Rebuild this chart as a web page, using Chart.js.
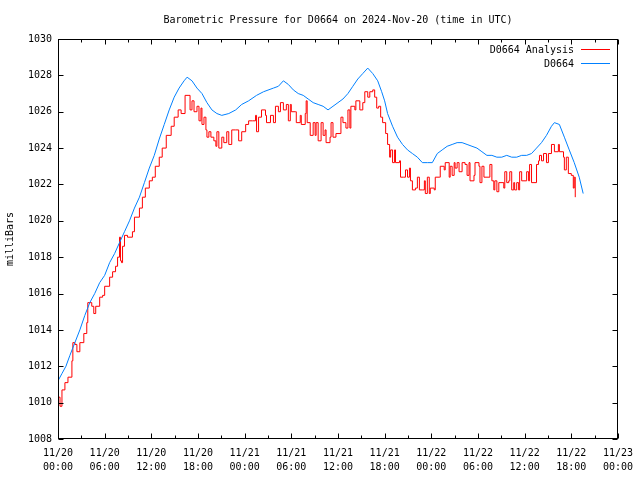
<!DOCTYPE html>
<html>
<head>
<meta charset="utf-8">
<title>Barometric Pressure D0664</title>
<script src="https://cdn.jsdelivr.net/npm/chart.js@4/dist/chart.umd.min.js"></script>
<style>
    html, body { margin: 0; padding: 0; background: #fff; }
    canvas { display: block; }
</style>
</head>
<body>
<canvas id="pressure-chart" width="640" height="480"></canvas>
<script>
// ─── Data (hours since 2024-11-20 00:00 UTC, millibars) ──────────────────────

const stationHours = [
    0.00, 0.51, 1.02, 1.53, 2.17, 2.81, 3.45, 4.09, 4.72, 5.36, 6.00, 6.64, 7.28, 7.91,
    8.55, 9.19, 9.83, 10.47, 11.11, 11.74, 12.38, 13.02, 13.66, 14.30, 14.94, 15.57,
    16.21, 16.60, 17.23, 17.87, 18.51, 19.15, 19.79, 20.43, 21.06, 21.96, 22.85, 23.62,
    24.51, 25.53, 26.43, 27.70, 28.34, 28.98, 29.62, 30.26, 30.89, 31.53, 32.17, 32.81,
    33.45, 34.09, 34.72, 35.36, 36.00, 36.64, 37.28, 37.91, 38.55, 39.19, 39.83, 40.47,
    41.11, 41.62, 42.00, 42.38, 43.02, 43.66, 44.30, 44.94, 45.57, 46.21, 46.85, 47.49,
    48.13, 48.77, 49.40, 50.04, 50.68, 51.32, 51.96, 52.60, 53.23, 53.87, 54.51, 55.15,
    55.79, 56.43, 57.06, 57.70, 58.34, 58.98, 59.62, 60.26, 60.89, 61.53, 62.17, 62.81,
    63.45, 63.83, 64.47, 65.11, 65.74, 66.38, 67.02, 67.53,
];
const stationPressure = [
    1011.2, 1011.6, 1012.0, 1012.6, 1013.3, 1014.0, 1014.8, 1015.5, 1016.0, 1016.6, 1017.0, 1017.7, 1018.2, 1018.8,
    1019.4, 1020.0, 1020.7, 1021.3, 1022.1, 1022.9, 1023.6, 1024.5, 1025.3, 1026.1, 1026.8, 1027.3,
    1027.7, 1027.9, 1027.7, 1027.3, 1027.0, 1026.5, 1026.1, 1025.9, 1025.8, 1025.9, 1026.1, 1026.4,
    1026.6, 1026.9, 1027.1, 1027.3, 1027.4, 1027.7, 1027.5, 1027.2, 1027.0, 1026.9, 1026.7, 1026.5,
    1026.4, 1026.3, 1026.1, 1026.3, 1026.5, 1026.7, 1027.0, 1027.4, 1027.8, 1028.1, 1028.4, 1028.1,
    1027.7, 1027.1, 1026.6, 1025.9, 1025.2, 1024.6, 1024.2, 1023.9, 1023.7, 1023.5, 1023.2, 1023.2,
    1023.2, 1023.7, 1023.9, 1024.1, 1024.2, 1024.3, 1024.3, 1024.2, 1024.1, 1024.0, 1023.8, 1023.6,
    1023.6, 1023.5, 1023.5, 1023.6, 1023.5, 1023.5, 1023.6, 1023.6, 1023.7, 1024.0, 1024.3, 1024.7,
    1025.2, 1025.4, 1025.3, 1024.6, 1023.9, 1023.2, 1022.4, 1021.5,
];

const analysisHours = [
    0.00, 0.26, 0.51, 0.89, 1.28, 1.79, 1.91, 2.17, 2.43, 2.81, 3.32, 3.70, 3.83, 4.34,
    4.60, 4.85, 5.36, 5.74, 6.00, 6.64, 7.02, 7.40, 7.66, 7.91, 8.04, 8.17, 8.30, 8.55,
    8.94, 9.57, 9.83, 10.47, 10.85, 11.23, 11.74, 12.13, 12.51, 13.02, 13.40, 13.92,
    14.55, 14.94, 15.45, 15.83, 16.34, 16.72, 16.98, 17.23, 17.49, 17.87, 18.13, 18.38,
    18.51, 18.77, 19.02, 19.15, 19.40, 19.66, 20.04, 20.30, 20.43, 20.68, 21.06, 21.32,
    21.70, 21.96, 22.34, 22.85, 23.23, 23.62, 24.13, 24.51, 25.02, 25.40, 25.53, 25.79,
    26.17, 26.68, 26.81, 27.32, 27.70, 27.96, 28.34, 28.60, 28.98, 29.36, 29.62, 29.87,
    30.00, 30.51, 30.64, 31.15, 31.28, 31.79, 31.91, 32.04, 32.43, 32.81, 33.06, 33.19,
    33.45, 33.83, 34.09, 34.34, 34.47, 34.98, 35.11, 35.36, 35.74, 36.26, 36.38, 36.64,
    37.02, 37.28, 37.53, 37.66, 38.17, 38.30, 38.81, 39.19, 39.45, 39.83, 40.09, 40.47,
    40.72, 40.98, 41.23, 41.49, 41.74, 42.13, 42.38, 42.64, 42.77, 43.02, 43.28, 43.40,
    43.91, 44.04, 44.43, 44.68, 44.94, 45.19, 45.32, 45.57, 45.96, 46.21, 46.47, 46.85,
    47.11, 47.23, 47.49, 47.74, 47.87, 48.38, 48.51, 49.02, 49.15, 49.66, 49.79, 50.30,
    50.43, 50.68, 50.94, 51.06, 51.32, 51.57, 51.96, 52.34, 52.60, 52.85, 52.98, 53.49,
    53.62, 54.13, 54.26, 54.51, 54.77, 55.53, 55.79, 56.04, 56.17, 56.43, 56.68, 57.32,
    57.45, 57.70, 57.96, 58.09, 58.34, 58.60, 58.72, 58.98, 59.23, 59.36, 59.62, 60.26,
    60.51, 60.64, 60.89, 61.53, 61.79, 61.91, 62.17, 62.43, 62.81, 63.06, 63.45, 63.83,
    64.34, 64.47, 65.00, 65.11, 65.36, 65.62, 66.00, 66.26, 66.38, 66.51,
];
const analysisPressure = [
    1010.3, 1009.8, 1010.7, 1011.1, 1011.4, 1012.3, 1013.3, 1013.2, 1012.8, 1013.3, 1013.8, 1014.4, 1015.5, 1015.3,
    1014.9, 1015.3, 1015.8, 1015.9, 1016.4, 1016.9, 1017.2, 1017.5, 1018.0, 1019.1, 1017.8, 1017.7, 1018.6, 1019.2,
    1019.1, 1019.4, 1020.2, 1020.7, 1021.3, 1021.8, 1022.2, 1022.4, 1023.0, 1023.5, 1024.0, 1024.7,
    1025.2, 1025.7, 1026.1, 1025.9, 1026.9, 1026.9, 1026.1, 1026.6, 1026.0, 1026.3, 1025.5, 1026.2,
    1025.3, 1025.7, 1025.0, 1024.6, 1024.9, 1024.6, 1024.4, 1024.1, 1024.9, 1024.0, 1024.6, 1024.3,
    1024.9, 1024.2, 1025.0, 1025.0, 1024.4, 1024.9, 1025.3, 1025.5, 1025.5, 1025.8, 1024.9, 1025.7,
    1026.1, 1025.8, 1025.4, 1025.8, 1025.4, 1026.3, 1026.0, 1026.5, 1026.1, 1026.4, 1025.5, 1026.4,
    1026.0, 1026.0, 1025.4, 1025.8, 1025.3, 1025.9, 1026.6, 1025.4, 1024.7, 1025.4, 1024.7, 1025.4,
    1024.4, 1025.4, 1024.7, 1025.0, 1024.3, 1024.6, 1025.4, 1024.6, 1024.8, 1024.8, 1025.7, 1025.4,
    1025.1, 1026.1, 1025.1, 1026.3, 1026.1, 1026.6, 1026.1, 1026.5, 1027.1, 1026.8, 1027.1, 1027.2,
    1026.8, 1026.2, 1026.3, 1025.7, 1025.4, 1024.8, 1024.2, 1023.5, 1023.9, 1023.2, 1023.9, 1023.2,
    1023.3, 1022.4, 1022.4, 1022.8, 1022.4, 1022.9, 1022.2, 1021.7, 1021.8, 1022.4, 1021.7, 1021.7,
    1022.2, 1021.5, 1022.4, 1021.5, 1021.8, 1021.7, 1022.4, 1022.4, 1023.0, 1022.8, 1023.2, 1022.4,
    1023.0, 1022.5, 1023.2, 1022.9, 1023.2, 1022.7, 1023.2, 1023.1, 1022.5, 1023.2, 1022.2, 1022.5,
    1023.2, 1023.0, 1022.1, 1023.0, 1022.4, 1023.1, 1022.2, 1021.7, 1022.2, 1021.6, 1022.1, 1021.8,
    1022.7, 1022.1, 1022.2, 1022.7, 1021.7, 1022.1, 1021.7, 1022.1, 1021.7, 1022.7, 1022.2, 1022.7,
    1022.2, 1023.1, 1022.1, 1023.1, 1023.3, 1023.6, 1023.3, 1023.7, 1023.2, 1023.7, 1024.2, 1023.8,
    1024.2, 1023.8, 1023.5, 1022.8, 1023.5, 1022.6, 1022.5, 1021.8, 1022.4, 1021.3,
];

const xTickLabels = [
    ['11/20', '00:00'], ['11/20', '06:00'], ['11/20', '12:00'], ['11/20', '18:00'],
    ['11/21', '00:00'], ['11/21', '06:00'], ['11/21', '12:00'], ['11/21', '18:00'],
    ['11/22', '00:00'], ['11/22', '06:00'], ['11/22', '12:00'], ['11/22', '18:00'],
    ['11/23', '00:00'],
];
const seriesLabels = ['D0664 Analysis', 'D0664'];
const chartTitle   = 'Barometric Pressure for D0664 on 2024-Nov-20 (time in UTC)';
const yAxisTitle   = 'milliBars';

// ─── Helpers ────────────────────────────────────────────────────────────────

const FONT = 'DejaVu Sans Mono';
const toPoints = (xs, ys) => xs.map((x, i) => ({ x, y: ys[i] }));

/**
 * gnuplot-style frame: closed box, inward tics on all four sides,
 * title centred over the plot area, and a text-then-line key.
 */
const gnuplotFrame = {
    id: 'gnuplotFrame',
    afterDraw(chart) {
        const { ctx, chartArea: a, scales: { x, y } } = chart;
        const L = Math.round(a.left) + 0.5, R = Math.round(a.right) - 0.5;
        const T = Math.round(a.top) + 0.5,  B = Math.round(a.bottom) - 0.5;

        ctx.save();
        ctx.strokeStyle = '#000';
        ctx.lineWidth   = 1;
        ctx.beginPath();
        // x tics: major every 6 h, minor every 3 h
        for (let v = x.min; v <= x.max; v += 3) {
            const px  = Math.round(x.getPixelForValue(v)) + 0.5;
            const len = v % 6 === 0 ? 5 : 3;
            ctx.moveTo(px, B); ctx.lineTo(px, B - len);
            ctx.moveTo(px, T); ctx.lineTo(px, T + len);
        }
        // y tics
        y.ticks.forEach(t => {
            const py = Math.round(y.getPixelForValue(t.value)) + 0.5;
            ctx.moveTo(L, py); ctx.lineTo(L + 5, py);
            ctx.moveTo(R, py); ctx.lineTo(R - 5, py);
        });
        ctx.stroke();
        ctx.strokeRect(L, T, R - L, B - T);

        // Title
        ctx.fillStyle    = '#000';
        ctx.font         = `10px "${FONT}"`;
        ctx.textAlign    = 'center';
        ctx.textBaseline = 'middle';
        ctx.fillText(chartTitle, (a.left + a.right) / 2, 20);

        // Key (text right-aligned, sample line to the right)
        ctx.textAlign = 'right';
        chart.data.datasets.forEach((ds, i) => {
            const ky = 49 + i * 14;
            ctx.fillText(ds.label, 574, ky + 1);
            ctx.strokeStyle = ds.borderColor;
            ctx.beginPath();
            ctx.moveTo(581, ky + 0.5);
            ctx.lineTo(610, ky + 0.5);
            ctx.stroke();
        });
        ctx.restore();
    },
};

// ─── Chart ──────────────────────────────────────────────────────────────────

Chart.defaults.font.family = FONT;
Chart.defaults.font.size   = 10;
Chart.defaults.color       = '#000';

new Chart(document.getElementById('pressure-chart'), {
    type: 'line',
    data: {
        datasets: [
            {
                label:       seriesLabels[0],
                data:        toPoints(analysisHours, analysisPressure),
                borderColor: '#ff0000',
                borderWidth: 1,
                stepped:     true,
                pointRadius: 0,
                order:       1,
            },
            {
                label:       seriesLabels[1],
                data:        toPoints(stationHours, stationPressure),
                borderColor: '#0080ff',
                borderWidth: 1,
                pointRadius: 0,
                order:       0,
            },
        ],
    },
    options: {
        responsive: false,
        animation:  false,
        devicePixelRatio: 1,
        layout: { padding: { top: 39, right: 18, bottom: 0, left: 0 } },
        plugins: {
            legend:  { display: false },
            tooltip: { enabled: false },
        },
        scales: {
            x: {
                type: 'linear',
                min: 0,
                max: 72,
                grid:   { display: false, drawTicks: false },
                border: { display: false },
                ticks: {
                    stepSize: 6,
                    padding: 7,
                    maxRotation: 0,
                    autoSkip: false,
                    font: { size: 10, lineHeight: 1.4 },
                    callback: v => xTickLabels[Math.round(v / 6)],
                },
                afterFit: scale => { scale.height = 41; },
            },
            y: {
                min: 1008,
                max: 1030,
                grid:   { display: false, drawTicks: false },
                border: { display: false },
                ticks:  { stepSize: 2, padding: 6, callback: v => String(v) },
                title:  { display: true, text: yAxisTitle, padding: { top: 4, bottom: 0 } },
                afterFit: scale => { scale.width = 58; },
            },
        },
    },
    plugins: [gnuplotFrame],
});
</script>
</body>
</html>
